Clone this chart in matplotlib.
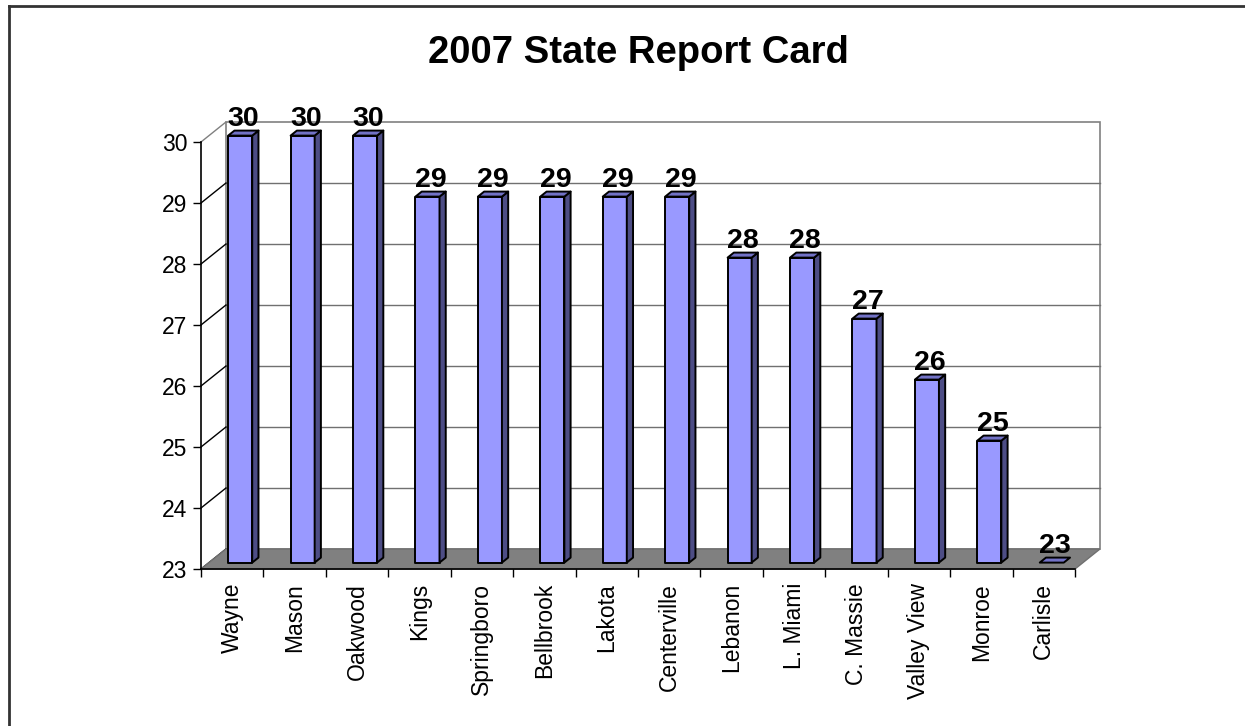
import matplotlib
matplotlib.use("Agg")
import matplotlib.pyplot as plt
from matplotlib.patches import Polygon
from matplotlib.lines import Line2D

plt.rcParams['font.family'] = ['Liberation Sans', 'DejaVu Sans']

schools = ['Wayne', 'Mason', 'Oakwood', 'Kings', 'Springboro', 'Bellbrook', 'Lakota',
           'Centerville', 'Lebanon', 'L. Miami', 'C. Massie', 'Valley View', 'Monroe', 'Carlisle']
scores = [30, 30, 30, 29, 29, 29, 29, 29, 28, 28, 27, 26, 25, 23]
ymin, ymax = 23, 30

# fake 3d depth (data units)
DX, DY = 0.40, 0.328
F0, F1 = 0.32, 0.57      # bar front / back depth fraction
BW = 0.385               # bar width

front_c = '#9999FF'
side_c = '#4D4D85'
top_c = '#7272C6'

fig = plt.figure(figsize=(12.45, 7.26), dpi=100)
ax = fig.add_axes([201 / 1245, 157 / 726, 874 / 1245, 427 / 726])
ax.set_xlim(0, len(schools))
ax.set_ylim(ymin, ymax)
ax.patch.set_visible(False)
n = len(schools)

# back wall
ax.add_patch(Polygon([(DX, ymin + DY), (n + DX, ymin + DY), (n + DX, ymax + DY), (DX, ymax + DY)],
                     closed=True, facecolor='white', edgecolor='#808080', lw=1.2, clip_on=False, zorder=0))
for v in range(ymin + 1, ymax):
    ax.plot([DX, n + DX], [v + DY, v + DY], color='#707070', lw=1, clip_on=False, zorder=1)
# left wall diagonals
for v in range(ymin, ymax + 1):
    c = '#808080' if v == ymax else 'black'
    ax.plot([0, DX], [v, v + DY], color=c, lw=1, clip_on=False, zorder=1)
# floor
ax.add_patch(Polygon([(0, ymin), (n, ymin), (n + DX, ymin + DY), (DX, ymin + DY)],
                     closed=True, facecolor='#808080', edgecolor='#707070', lw=1, clip_on=False, zorder=1))

# bars
for i, v in enumerate(scores):
    x0 = i + 0.5 - BW / 2 + F0 * DX
    x1 = x0 + BW
    b0 = ymin + F0 * DY
    t0 = v + F0 * DY
    ddx, ddy = (F1 - F0) * DX, (F1 - F0) * DY
    kw = dict(closed=True, edgecolor='black', lw=1.4, clip_on=False, zorder=3, joinstyle='round')
    if v > ymin:
        ax.add_patch(Polygon([(x0, b0), (x1, b0), (x1, t0), (x0, t0)], facecolor=front_c, **kw))
        ax.add_patch(Polygon([(x1, b0), (x1 + ddx, b0 + ddy), (x1 + ddx, t0 + ddy), (x1, t0)],
                             facecolor=side_c, **kw))
    ax.add_patch(Polygon([(x0, t0), (x1, t0), (x1 + ddx, t0 + ddy), (x0 + ddx, t0 + ddy)],
                         facecolor=top_c, **kw))
    ax.annotate(str(v), (i + 0.5 + (F0 + F1) / 2 * DX, v + F1 * DY), xytext=(0, 3.5),
                textcoords='offset points', ha='center', va='baseline',
                fontsize=20.5, fontweight='bold', zorder=5, annotation_clip=False)

# axes
for s in ['top', 'right']:
    ax.spines[s].set_visible(False)
ax.spines['left'].set_linewidth(1.2)
ax.spines['bottom'].set_linewidth(1.2)
ax.spines['left'].set_zorder(4)
ax.spines['bottom'].set_zorder(4)
ax.set_yticks(range(ymin, ymax + 1))
ax.tick_params(axis='y', length=6, width=1, pad=4, labelsize=16.5)
ax.set_xticks(range(0, n + 1))
ax.set_xticklabels([])
ax.set_xticks([i + 0.5 for i in range(n)], minor=True)
ax.set_xticklabels(schools, minor=True, rotation=90, fontsize=16.5, va='top')
ax.tick_params(axis='x', which='major', length=6, width=1)
ax.tick_params(axis='x', which='minor', length=0, pad=10)

fig.text(638 / 1245, 1 - 63 / 726, '2007 State Report Card', ha='center', va='baseline',
         fontsize=27.5, fontweight='bold')

# outer chart border
fig.add_artist(Line2D([8.5 / 1245, 8.5 / 1245], [0, 1 - 5.5 / 726], color='#333333', lw=2,
                      transform=fig.transFigure))
fig.add_artist(Line2D([8.5 / 1245, 1], [1 - 5.5 / 726, 1 - 5.5 / 726], color='#333333', lw=2,
                      transform=fig.transFigure))

fig.savefig('out.png', dpi=100)
